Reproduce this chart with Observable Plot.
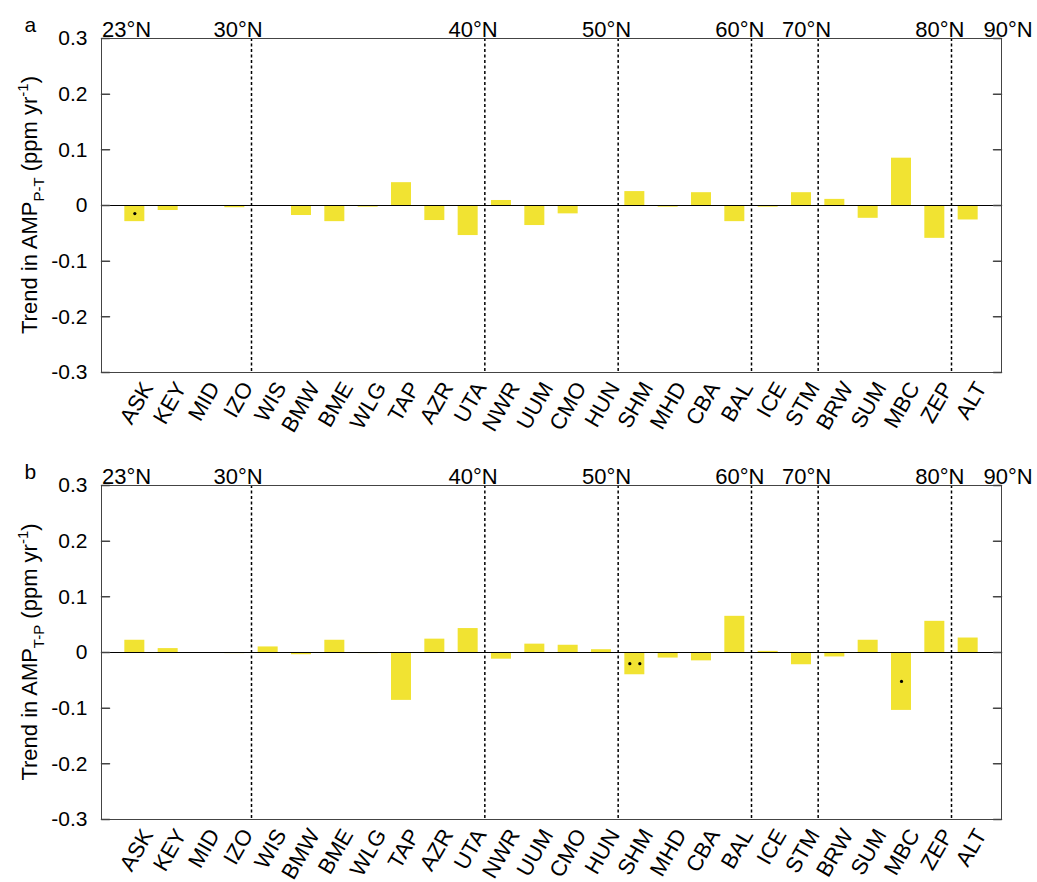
<!DOCTYPE html>
<html><head><meta charset="utf-8">
<script src="https://cdn.jsdelivr.net/npm/d3@7"></script>
<script src="https://cdn.jsdelivr.net/npm/@observablehq/plot@0.6"></script>
<style>body{margin:0;background:#fff;font-family:"Liberation Sans",Arial,sans-serif}#chart svg{display:block}</style>
</head><body><div id="chart"></div>
<script>
const stations = ["ASK","KEY","MID","IZO","WIS","BMW","BME","WLG","TAP","AZR","UTA","NWR","UUM","CMO","HUN","SHM","MHD","CBA","BAL","ICE","STM","BRW","SUM","MBC","ZEP","ALT"];
const trendPT = [-0.029,-0.009,null,-0.004,null,-0.018,-0.029,-0.003,0.041,-0.027,-0.054,0.009,-0.036,-0.015,null,0.025,-0.003,0.023,-0.029,-0.003,0.023,0.011,-0.023,0.085,-0.059,-0.026];
const trendTP = [0.022,0.007,null,-0.002,0.010,-0.004,0.022,-0.002,-0.086,0.024,0.043,-0.012,0.015,0.013,0.005,-0.040,-0.010,-0.015,0.065,0.002,-0.022,-0.008,0.022,-0.104,0.056,0.026];
const sigPT = [{station:"ASK", count:1}];
const sigTP = [{station:"SHM", count:2},{station:"MBC", count:1}];
const latLines = [4.5, 11.5, 15.5, 19.5, 21.5, 25.5];
const latLabels = ["23°N","30°N","40°N","50°N","60°N","70°N","80°N","90°N"];
const latLabelPos = [0.75, 4.1, 11.15, 15.15, 19.15, 21.15, 25.15, 27.2];
const yTicks = [-0.3,-0.2,-0.1,0,0.1,0.2,0.3];
const yTickLabels = ["-0.3","-0.2","-0.1","0","0.1","0.2","0.3"];

const font = "'Liberation Sans', Arial, Helvetica, sans-serif";
const tickShape = {draw(context, l) { context.moveTo(0, 0); context.lineTo(0, -l); }};

function panel(values, sig, letter, sub, height) {
  const data = stations.map((s, i) => ({station: s, pos: i + 1, value: values[i]}));
  const dots = sig.flatMap(({station, count}) => {
    const i = stations.indexOf(station);
    const offs = count === 2 ? [-0.15, 0.15] : [0];
    return offs.map(o => ({x: i + 1 + o, y: values[i] / 2}));
  });
  const mt = 38, fh = 334;
  const svg = Plot.plot({
    width: 1037, height,
    marginLeft: 101, marginRight: 36, marginTop: mt, marginBottom: height - mt - fh,
    x: {domain: [0, 27], axis: null},
    y: {domain: [-0.3, 0.3], axis: null},
    style: {fontFamily: font, fontSize: "21px", color: "#000", background: "#fff", overflow: "visible"},
    marks: [
      Plot.rectY(data.filter(d => d.value != null), {x1: d => d.pos - 0.3, x2: d => d.pos + 0.3, y1: 0, y2: "value", fill: "#f1e332"}),
      Plot.ruleX(latLines, {stroke: "#000", strokeWidth: 1.5, strokeDasharray: "3,2.5"}),
      Plot.ruleY([0], {stroke: "#000", strokeWidth: 1}),
      Plot.dot(dots, {x: "x", y: "y", r: 1.6, fill: "#000", stroke: null}),
      Plot.frame({stroke: "#444"}),
      Plot.vector(yTicks, {y: d => d, frameAnchor: "left", length: 8, rotate: 90, anchor: "start", shape: tickShape, stroke: "#444"}),
      Plot.vector(yTicks, {y: d => d, frameAnchor: "right", length: 8, rotate: -90, anchor: "start", shape: tickShape, stroke: "#444"}),
      Plot.text(yTicks, {y: d => d, text: (d, i) => yTickLabels[i], frameAnchor: "left", textAnchor: "end", dx: -14, fontSize: 21}),
      Plot.text(latLabels, {x: (d, i) => latLabelPos[i], text: d => d, frameAnchor: "top", dy: -17, fontSize: 22}),
      Plot.text(data, {x: "pos", text: "station", frameAnchor: "bottom", rotate: -60, textAnchor: "end", dx: 19, dy: 15, fontSize: 22}),
      Plot.text([letter], {frameAnchor: "top-left", dx: -77, dy: -21, textAnchor: "start", fontSize: 21})
    ]
  });
  const t = d3.select(svg).append("text")
    .attr("transform", `translate(37,${mt + fh / 2}) rotate(-90)`)
    .attr("text-anchor", "middle")
    .attr("font-family", font)
    .attr("font-size", 22)
    .attr("fill", "#000");
  t.append("tspan").text("Trend in AMP");
  t.append("tspan").attr("dy", 7).attr("font-size", 15).text(sub);
  t.append("tspan").attr("dy", -7).text(" (ppm yr");
  t.append("tspan").attr("dy", -9).attr("font-size", 15).text("-1");
  t.append("tspan").attr("dy", 9).text(")");
  return svg;
}

const chart = document.getElementById("chart");
chart.appendChild(panel(trendPT, sigPT, "a", "P-T", 447));
chart.appendChild(panel(trendTP, sigTP, "b", "T-P", 435));
</script>
</body></html>
